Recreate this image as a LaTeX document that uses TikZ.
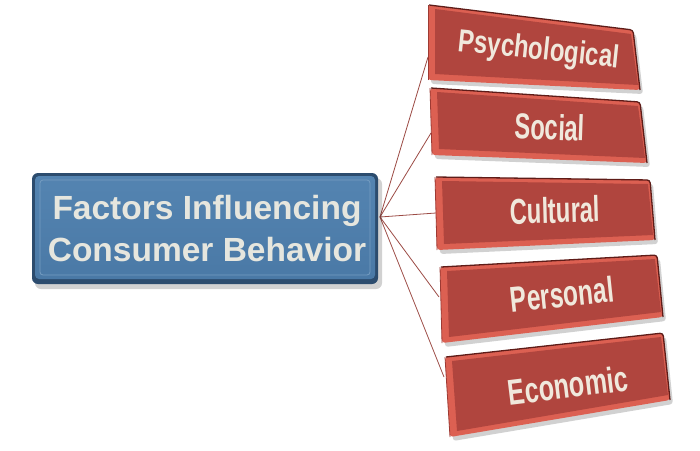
\documentclass[tikz,border=0pt]{standalone}
\usepackage{fontspec}
\setmainfont{Liberation Sans}
\usetikzlibrary{calc}
\definecolor{bluefront}{HTML}{4A79A6}
\definecolor{bluetop}{HTML}{5484B1}
\definecolor{blueedge}{HTML}{2C4C6E}
\definecolor{redfront}{HTML}{B0453E}
\definecolor{redbevel}{HTML}{DC6052}
\definecolor{rededge}{HTML}{5E1C18}
\definecolor{redside}{HTML}{9E3A33}
\definecolor{txtlight}{HTML}{F0E8DC}
\definecolor{txtblue}{HTML}{E6E6DE}
\definecolor{linkred}{HTML}{9C4B45}

\tikzset{
  link/.style={draw=linkred, line width=0.8pt},
  boxtext/.style={text=txtlight, font=\bfseries\fontsize{36}{36}\selectfont,
    inner sep=0pt, text height=26pt, text depth=0pt},
  shadowfill/.style={fill=black, opacity=0.18},
}

\newcommand\redbox[5]{%
  \coordinate (#1-tl) at #2;
  \coordinate (#1-tr) at #3;
  \coordinate (#1-br) at #4;
  \coordinate (#1-bl) at #5;
  \fill[shadowfill, rounded corners=3pt] ($(#1-tl)+(3,4)$) -- ($(#1-tr)+(3,4)$) -- ($(#1-br)+(3,4)$) -- ($(#1-bl)+(3,4)$) -- cycle;
  \fill[redbevel, rounded corners=3pt] (#1-tl) -- (#1-tr) -- (#1-br) -- (#1-bl) -- cycle;
  \fill[redfront] ($(#1-tl)+(7,4)$) -- ($(#1-tr)+(-2,4)$) -- ($(#1-br)+(-2,-5)$) -- ($(#1-bl)+(7,-6)$) -- cycle;
  \draw[redside, line width=0.8pt, rounded corners=3pt] (#1-bl) -- (#1-tl);
  \draw[rededge, line width=1.3pt, rounded corners=3pt] ($(#1-tl)+(1,0)$) -- (#1-tr) -- (#1-br);
}

\begin{document}
\begin{tikzpicture}[x=1pt, y=-1pt]
\useasboundingbox (0,0) rectangle (700,450);
\fill[white] (0,0) rectangle (700,450);

% connectors
\coordinate (hub) at (380,217);
\coordinate (psyL) at (428,57);
\coordinate (socL) at (431,133);
\coordinate (culL) at (436,213);
\coordinate (perL) at (439,297);
\coordinate (ecoL) at (444,377);
\foreach \t in {psyL,socL,culL,perL,ecoL} \draw[link] (hub) -- (\t);

% blue box
\fill[shadowfill, rounded corners=6pt] (35,178) rectangle (382,289);
\fill[blueedge, rounded corners=6pt] (32,173) rectangle (378,284);
\shade[top color=bluetop, bottom color=bluefront, rounded corners=4pt] (35,176) rectangle (375,279);
\draw[bluetop!80!white, line width=0.8pt, rounded corners=3pt] (40,180) rectangle (370,275);
\node[align=center, text=txtblue, inner sep=0pt,
      font=\bfseries\fontsize{33.5}{42}\selectfont] (main) at (207,229)
  {Factors Influencing\\Consumer Behavior};

% red boxes
\redbox{psy}{(428,5)}{(633,30)}{(640,90)}{(428,80)}
\redbox{soc}{(430,88)}{(640,102)}{(647,163)}{(432,155)}
\redbox{cul}{(435,177)}{(650,180)}{(655,240)}{(437,250)}
\redbox{per}{(440,267)}{(657,255)}{(663,317)}{(442,343)}
\redbox{eco}{(445,357)}{(663,333)}{(670,400)}{(450,437)}

\node[boxtext, font=\bfseries\fontsize{32}{32}\selectfont, text height=23pt, rotate=-6] (psyT) at (539,48) {\scalebox{0.75}[1]{Psychological}};
\node[boxtext, rotate=-2] (socT) at (550,127) {\scalebox{0.66}[1]{Social}};
\node[boxtext, rotate=1.5] (culT) at (555,210) {\scalebox{0.66}[1]{Cultural}};
\node[boxtext, rotate=6] (perT) at (562,294) {\scalebox{0.68}[1]{Personal}};
\node[boxtext, rotate=7] (ecoT) at (568,385) {\scalebox{0.70}[1]{Economic}};
\end{tikzpicture}
\end{document}
